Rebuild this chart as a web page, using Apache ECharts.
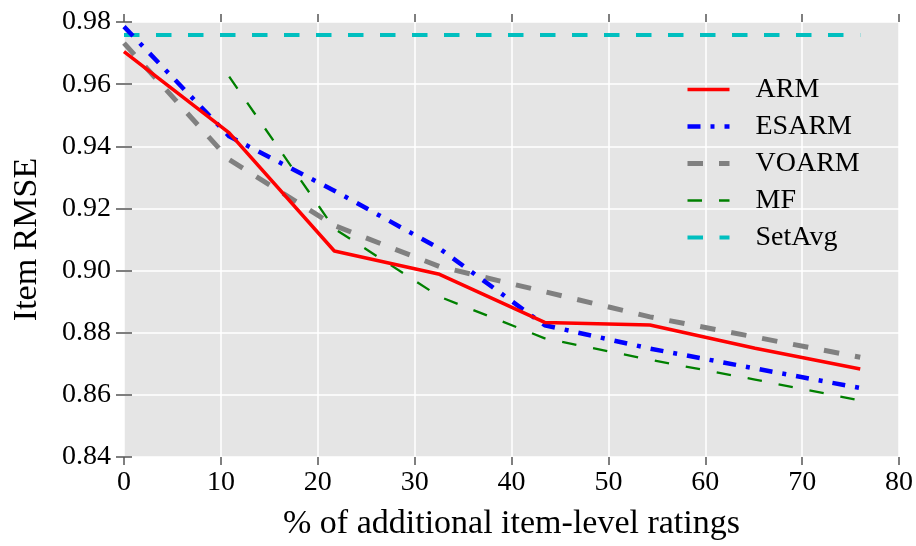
<!DOCTYPE html>
<html>
<head>
<meta charset="utf-8">
<script src="https://cdn.jsdelivr.net/npm/echarts@6/dist/echarts.min.js"></script>
<style>
  html, body { margin: 0; padding: 0; background: #ffffff; }
  #chart { width: 916px; height: 546px; }
</style>
</head>
<body>
<div id="chart"></div>
<script>
// Share of additional item-level ratings (%)
const xValues = [0, 10.86, 21.71, 32.57, 43.43, 54.29, 65.14, 76.0];

// Item RMSE per method
const armValues    = [0.9705, 0.9443, 0.9063, 0.8988, 0.8833, 0.8825, 0.8750, 0.8683];
const esarmValues  = [0.9785, 0.9432, 0.9257, 0.9071, 0.8824, 0.8749, 0.8685, 0.8622];
const voarmValues  = [0.9732, 0.9357, 0.9145, 0.9013, 0.8932, 0.8851, 0.8786, 0.8721];
const mfValues     = [null,   0.9624, 0.9135, 0.8916, 0.8782, 0.8713, 0.8649, 0.8582];
const setAvgValues = [0.9758, 0.9758, 0.9758, 0.9758, 0.9758, 0.9758, 0.9758, 0.9758];

const seriesNames = ['ARM', 'ESARM', 'VOARM', 'MF', 'SetAvg'];

const X_MIN = 0, X_MAX = 80, X_STEP = 10;
const Y_MIN = 0.84, Y_MAX = 0.98, Y_STEP = 0.02;

const FONT = 'Liberation Serif';
const TICK_COLOR = '#555555';

function pairs(ys) {
  return xValues.map((x, i) => [x, ys[i]]).filter(p => p[1] !== null);
}

function lineSeries(name, values, color, width, dash, z) {
  return {
    name: name,
    type: 'line',
    data: pairs(values),
    showSymbol: false,
    symbol: 'none',
    z: z,
    lineStyle: { color: color, width: width, type: dash, cap: 'butt', join: 'round' },
    itemStyle: { color: color },
    emphasis: { disabled: true },
    animation: false
  };
}

const chart = echarts.init(document.getElementById('chart'), null, { renderer: 'canvas' });

const tickCommon = {
  show: true, inside: false, length: 8,
  lineStyle: { color: TICK_COLOR, width: 1.5 }
};

chart.setOption({
  animation: false,
  backgroundColor: '#ffffff',
  grid: {
    left: 124, right: 14, top: 22, bottom: 88,
    show: true, backgroundColor: '#e5e5e5', borderWidth: 0
  },
  legend: {
    data: seriesNames,
    orient: 'vertical',
    left: 680,
    top: 69,
    itemWidth: 42,
    itemHeight: 14,
    itemGap: 6,
    itemStyle: { opacity: 0 },
    lineStyle: { width: 'inherit', type: 'inherit', color: 'inherit', cap: 'butt' },
    textStyle: {
      fontFamily: FONT, fontSize: 28, color: '#000000',
      padding: [0, 0, 0, 21],
      lineHeight: 31
    },
    selectedMode: false
  },
  xAxis: [
    {
      type: 'value', position: 'bottom',
      min: X_MIN, max: X_MAX, interval: X_STEP,
      name: '% of additional item-level ratings',
      nameLocation: 'middle', nameGap: 50,
      nameTextStyle: { fontFamily: FONT, fontSize: 34, color: '#000000' },
      axisLine: { show: false },
      axisTick: tickCommon,
      axisLabel: { fontFamily: FONT, fontSize: 28, color: '#000000', margin: 12 },
      splitLine: { show: true, lineStyle: { color: '#ffffff', width: 1.5 } }
    },
    {
      type: 'value', position: 'top',
      min: X_MIN, max: X_MAX, interval: X_STEP,
      axisLine: { show: false },
      axisTick: tickCommon,
      axisLabel: { show: false },
      splitLine: { show: false }
    }
  ],
  yAxis: [
    {
      type: 'value', position: 'left',
      min: Y_MIN, max: Y_MAX, interval: Y_STEP,
      name: 'Item RMSE',
      nameLocation: 'middle', nameGap: 80, nameRotate: 90,
      nameTextStyle: { fontFamily: FONT, fontSize: 34, color: '#000000' },
      axisLine: { show: false },
      axisTick: tickCommon,
      axisLabel: {
        fontFamily: FONT, fontSize: 28, color: '#000000', margin: 13,
        formatter: v => v.toFixed(2)
      },
      splitLine: { show: true, lineStyle: { color: '#ffffff', width: 1.5 } }
    },
    {
      type: 'value', position: 'right',
      min: Y_MIN, max: Y_MAX, interval: Y_STEP,
      axisLine: { show: false },
      axisTick: tickCommon,
      axisLabel: { show: false },
      splitLine: { show: false }
    }
  ],
  series: [
    lineSeries('ARM', armValues, '#ff0000', 3.5, 'solid', 5),
    lineSeries('ESARM', esarmValues, '#0000ff', 4.5, [13, 10, 4, 10], 4),
    lineSeries('VOARM', voarmValues, '#808080', 5, [15.5, 16], 3),
    lineSeries('MF', mfValues, '#008000', 2.3, [14.5, 17], 2),
    lineSeries('SetAvg', setAvgValues, '#00bfbf', 4, [15.5, 16.5], 1)
  ]
});
</script>
</body>
</html>
